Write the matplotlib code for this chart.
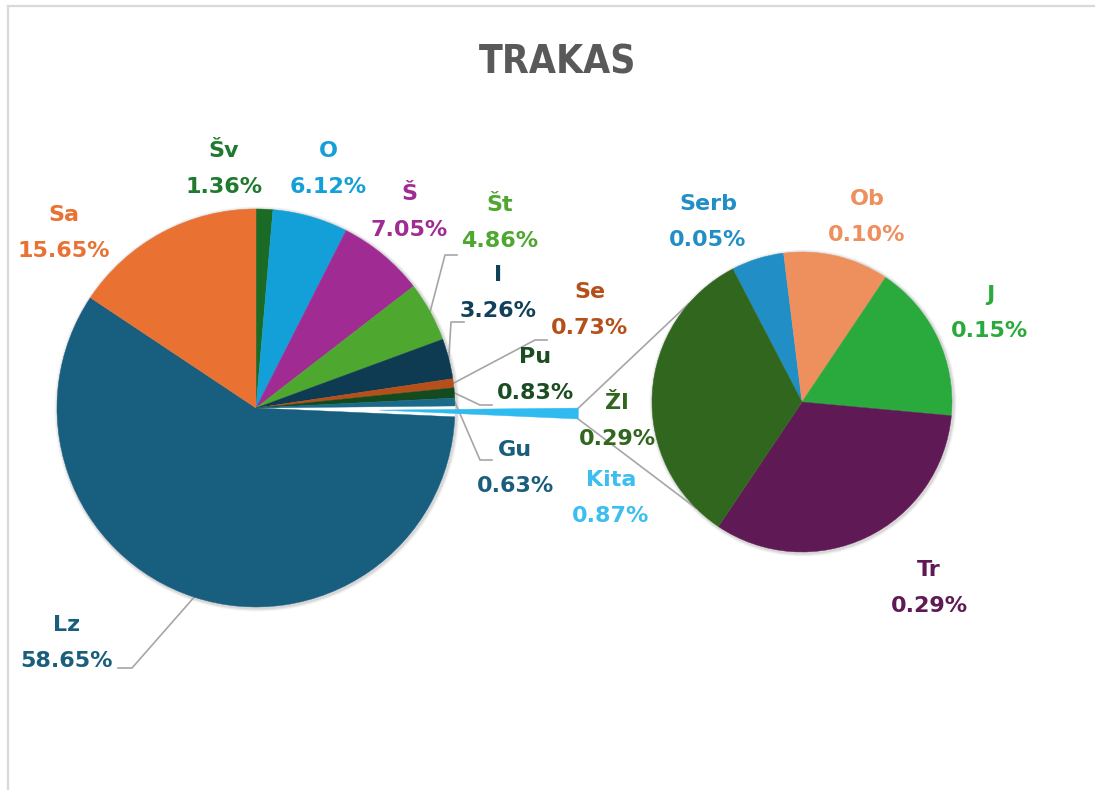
import numpy as np
import matplotlib
matplotlib.use("Agg")
import matplotlib.pyplot as plt
from matplotlib.patches import Wedge

# main pie (clockwise from 12 o'clock)
main_labels = ["Šv", "O", "Š", "Št", "I", "Se", "Pu", "Gu", "Kita", "Lz", "Sa"]
main_values = [1.36, 6.12, 7.05, 4.86, 3.26, 0.73, 0.83, 0.63, 0.87, 58.65, 15.65]
main_colors = ["#1b6b26", "#13a0d8", "#a02b93", "#4ea72e", "#0e3a52", "#b5501a",
               "#144a1f", "#1a6a8a", "#2fbaf0", "#175e7f", "#e97132"]

# secondary pie (breakdown of "Kita")
second_labels = ["Serb", "Ob", "J", "Tr", "Žl"]
second_values = [0.05, 0.10, 0.15, 0.29, 0.29]
second_colors = ["#218fc6", "#ee8f5e", "#2aaa3c", "#5f1a55", "#30661e"]

W, H = 1095, 790


def Y(p):
    # pixel row -> data y
    return H - p


fig = plt.figure(figsize=(W / 100, H / 100), dpi=100)
ax = fig.add_axes([0, 0, 1, 1])

# =============================
# Pies
# =============================
R_MAIN = 199
explode = [0.62 * R_MAIN if lab == "Kita" else 0 for lab in main_labels]
main_wedges, _ = ax.pie(main_values, colors=main_colors, startangle=90, counterclock=False,
                        center=(256, Y(408)), radius=R_MAIN, explode=explode,
                        wedgeprops=dict(linewidth=0.3))

sec_wedges, _ = ax.pie(second_values, colors=second_colors, startangle=117.5, counterclock=False,
                       center=(802, Y(402)), radius=150,
                       wedgeprops=dict(linewidth=0.3))

for w in list(main_wedges) + list(sec_wedges):
    w.set_edgecolor(w.get_facecolor())

# soft shadow ring just outside each pie
for w in (main_wedges[0], sec_wedges[0]):
    for k, a in [(3.5, 0.04), (2.5, 0.05), (1.5, 0.07)]:
        ax.add_patch(Wedge((w.center[0] + 1, w.center[1] - 1), w.r + k, 0, 360, width=k + 1,
                           facecolor="k", edgecolor="none", alpha=a, zorder=0))

ax.set_xlim(0, W)
ax.set_ylim(0, H)
ax.set_aspect("equal")
ax.axis("off")

line_col = "#a6a6a6"

# connector lines from "Kita" wedge to the second pie
kita = main_wedges[main_labels.index("Kita")]
cx, cy = kita.center
sx, sy = sec_wedges[0].center
sr = sec_wedges[0].r
for th, sth in [(kita.theta2, 139), (kita.theta1, -135)]:
    x0 = cx + kita.r * np.cos(np.radians(th))
    y0 = cy + kita.r * np.sin(np.radians(th))
    x1 = sx + sr * np.cos(np.radians(sth))
    y1 = sy + sr * np.sin(np.radians(sth))
    ax.plot([x0, x1], [y0, y1], color=line_col, lw=1.2, zorder=0.5)

# =============================
# Data labels
# =============================
label_pos = {
    "Šv": (224, 169), "O": (328, 169), "Š": (409, 212), "Št": (500, 223),
    "I": (498, 293), "Se": (590, 310), "Pu": (535, 375), "Gu": (515, 468),
    "Kita": (611, 498), "Lz": (67, 643), "Sa": (64, 233),
    "Serb": (708, 222), "Ob": (867, 217), "J": (990, 313), "Tr": (929, 588), "Žl": (617, 421),
}
label_colors = {"Šv": "#1f7a2e", "Kita": "#3cbff0", "Gu": "#1a5e7e", "I": "#12405a",
                "Pu": "#1a4d22", "Lz": "#1a5e7e"}

# leader lines: elbow and end point (pixels)
leaders = {
    "Št": [(445, 255), (457, 255)],
    "I": [(451, 322), (464, 322)],
    "Se": [(535, 340), (547, 340)],
    "Pu": [(480, 405), (492, 405)],
    "Gu": [(480, 460), (492, 460)],
    "Lz": [(132, 668), (118, 668)],
}

all_items = list(zip(main_labels, main_values, main_colors, main_wedges)) + \
    list(zip(second_labels, second_values, second_colors, sec_wedges))

for lab, val, col, w in all_items:
    px, py = label_pos[lab]
    ax.text(px, Y(py), f"{lab}\n{val:.2f}%", ha="center", va="center",
            fontsize=16, fontweight="bold", linespacing=2.0,
            color=label_colors.get(lab, col), family="DejaVu Sans")
    if lab in leaders:
        mid = np.radians((w.theta1 + w.theta2) / 2)
        xs = [w.center[0] + w.r * np.cos(mid)] + [p[0] for p in leaders[lab]]
        ys = [w.center[1] + w.r * np.sin(mid)] + [Y(p[1]) for p in leaders[lab]]
        ax.plot(xs, ys, color=line_col, lw=1.2, zorder=0.5)

# title
ax.text(558, Y(62), "TRAKAS", ha="center", va="center", fontsize=28, fontweight="bold",
        fontstretch="condensed", color="#595959",
        family=["Liberation Sans Narrow", "DejaVu Sans"])

# chart frame (left and top only visible)
ax.plot([8, 8], [Y(6), 0], color="#d9d9d9", lw=1.6, clip_on=False)
ax.plot([8, W], [Y(6), Y(6)], color="#d9d9d9", lw=1.6, clip_on=False)

fig.savefig("out.png", dpi=100, facecolor="white")
